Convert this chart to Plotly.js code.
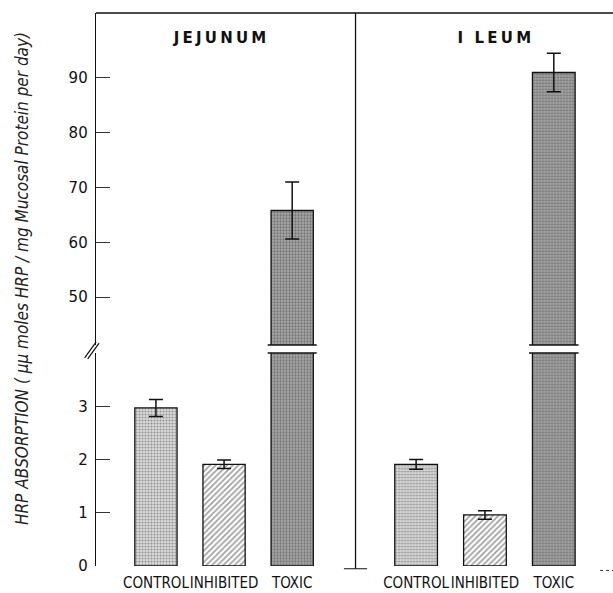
<!DOCTYPE html>
<html><head><meta charset="utf-8">
<script src="https://cdn.plot.ly/plotly-3.0.1.min.js"></script>
<style>body{margin:0;background:#fff}</style>
</head><body><div id="chart" style="width:613px;height:593px"></div>
<script>
var categories = ["CONTROL", "INHIBITED", "TOXIC"];
var jejunumValues = [2.97, 1.91, 65.8];
var jejunumErrors = [0.16, 0.08, 5.2];
var ileumValues = [1.91, 0.96, 91.0];
var ileumErrors = [0.09, 0.08, 3.5];
var panelTitles = ["JEJUNUM", "I LEUM"];
var upperTicks = [50, 60, 70, 80, 90];
var lowerTicks = [0, 1, 2, 3];
var yTitle = "HRP ABSORPTION ( µµ moles HRP / mg Mucosal Protein per day)";

var idx = [0, 1, 2];
var pat = [
  {shape: ".", fgcolor: "#555555", bgcolor: "#dcdcdc", size: 3, solidity: 0.4},
  {shape: "/", fgcolor: "#000000", bgcolor: "#ffffff", size: 4, solidity: 0.45},
  {shape: ".", fgcolor: "#333333", bgcolor: "#a8a8a8", size: 3, solidity: 0.45}
];
function barTrace(vals, errs, xa, ya) {
  return {
    type: "bar", x: idx, y: vals, xaxis: xa, yaxis: ya, width: 0.62,
    marker: {
      color: pat.map(function(p){return p.bgcolor;}),
      line: {color: "#111", width: 1.3},
      pattern: {
        shape: pat.map(function(p){return p.shape;}),
        fgcolor: pat.map(function(p){return p.fgcolor;}),
        bgcolor: pat.map(function(p){return p.bgcolor;}),
        size: pat.map(function(p){return p.size;}),
        solidity: pat.map(function(p){return p.solidity;}),
        fillmode: "overlay"
      }
    },
    error_y: {type: "data", array: errs, visible: true, color: "#111", thickness: 1.5, width: 7},
    hoverinfo: "skip", showlegend: false
  };
}
var data = [
  barTrace(jejunumValues, jejunumErrors, "x", "y"),
  barTrace(jejunumValues, jejunumErrors, "x", "y2"),
  barTrace(ileumValues, ileumErrors, "x2", "y"),
  barTrace(ileumValues, ileumErrors, "x2", "y2")
];

var tickFont = {family: "DejaVu Sans", size: 15, color: "#111"};
var catFont = {family: "Liberation Sans Narrow, DejaVu Sans Condensed, DejaVu Sans", size: 15, color: "#111"};
var lowRange = [0, 4], upRange = [41.23, 101.87];
var layout = {
  width: 613, height: 593,
  margin: {l: 96, r: 0, t: 13, b: 27},
  paper_bgcolor: "#fff", plot_bgcolor: "rgba(0,0,0,0)",
  xaxis: {domain: [0, 0.502], range: [-0.88, 2.93], tickvals: idx, ticktext: categories, tickangle: 0,
    showline: false, ticks: "", showgrid: false, zeroline: false, tickfont: catFont, anchor: "y", ticklabelstandoff: 6},
  xaxis2: {domain: [0.502, 1], range: [-0.88, 2.86], tickvals: idx, ticktext: categories, tickangle: 0,
    showline: false, ticks: "", showgrid: false, zeroline: false, tickfont: catFont, anchor: "y", ticklabelstandoff: 6},
  yaxis: {domain: [0, 0.385], range: lowRange, tickvals: lowerTicks, showline: true, linecolor: "#111",
    linewidth: 1.3, ticks: "inside", ticklen: 14, tickcolor: "#333", showgrid: false, zeroline: false,
    tickfont: tickFont, anchor: "x", ticklabelstandoff: 4},
  yaxis2: {domain: [0.3996, 1], range: upRange, tickvals: upperTicks, showline: true, linecolor: "#111",
    linewidth: 1.3, ticks: "inside", ticklen: 14, tickcolor: "#333", showgrid: false, zeroline: false,
    tickfont: tickFont, anchor: "x", ticklabelstandoff: 4},
  shapes: [
    {type: "line", xref: "paper", yref: "paper", x0: 0, x1: 1, y0: 1, y1: 1, line: {color: "#111", width: 1.3}},
    {type: "line", xref: "x2 domain", yref: "paper", x0: 0, x1: 0, y0: -0.005, y1: 1, line: {color: "#111", width: 1.3}},
    {type: "line", xref: "x2 domain", yref: "paper", x0: -0.045, x1: 0.045, y0: -0.005, y1: -0.005, line: {color: "#111", width: 1}},
    {type: "line", xref: "x2 domain", yref: "paper", x0: 0.95, x1: 1, y0: -0.008, y1: -0.008, line: {color: "#333", width: 1, dash: "dot"}},
    {type: "line", xref: "paper", yref: "paper", x0: -0.022, x1: 0.0, y0: 0.3765, y1: 0.405, line: {color: "#111", width: 1.2}},
    {type: "line", xref: "paper", yref: "paper", x0: -0.016, x1: 0.006, y0: 0.3745, y1: 0.403, line: {color: "#111", width: 1.2}},
    {type: "line", xref: "x", yref: "y2 domain", x0: 2 - 0.36, x1: 2 + 0.36, y0: 0, y1: 0, line: {color: "#111", width: 1.5}},
    {type: "line", xref: "x", yref: "y domain", x0: 2 - 0.36, x1: 2 + 0.36, y0: 1, y1: 1, line: {color: "#111", width: 1.5}},
    {type: "line", xref: "x2", yref: "y2 domain", x0: 2 - 0.36, x1: 2 + 0.36, y0: 0, y1: 0, line: {color: "#111", width: 1.5}},
    {type: "line", xref: "x2", yref: "y domain", x0: 2 - 0.36, x1: 2 + 0.36, y0: 1, y1: 1, line: {color: "#111", width: 1.5}}
  ],
  annotations: [
    {text: panelTitles[0], xref: "x domain", yref: "paper", x: 0.48, y: 0.955, showarrow: false,
      font: {family: "DejaVu Sans", size: 15, color: "#111", weight: 600}, xanchor: "center", yanchor: "middle"},
    {text: panelTitles[1], xref: "x2 domain", yref: "paper", x: 0.545, y: 0.955, showarrow: false,
      font: {family: "DejaVu Sans", size: 15, color: "#111", weight: 600}, xanchor: "center", yanchor: "middle"},
    {text: yTitle, xref: "paper", yref: "paper", x: -0.142, y: 0.52, textangle: -90, showarrow: false,
      font: {family: "Liberation Sans Narrow, DejaVu Sans Condensed, DejaVu Sans", size: 17, style: "italic", color: "#222"},
      xanchor: "center", yanchor: "middle"}
  ]
};
Plotly.newPlot("chart", data, layout, {displayModeBar: false, staticPlot: true}).then(function(){
  document.querySelectorAll("text.annotation-text").forEach(function(t){
    var s = t.getAttribute("data-unformatted") || t.textContent;
    if (s === panelTitles[0] || s === panelTitles[1]) t.style.letterSpacing = "3.2px";
    else t.style.fontStretch = "condensed";
  });
  document.querySelectorAll(".xtick text, .x2tick text").forEach(function(t){
    t.style.fontStretch = "condensed";
  });
});
</script></body></html>
